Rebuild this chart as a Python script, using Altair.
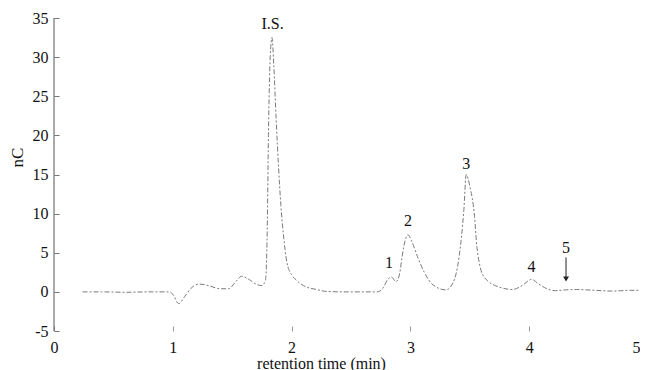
import altair as alt
import pandas as pd

# Chromatogram trace (retention time in min, signal in nC)
time_min = [0.24, 0.40, 0.60, 0.80, 0.97, 1.00, 1.05, 1.10, 1.15, 1.22, 1.30, 1.40, 1.47,
            1.53, 1.58, 1.64, 1.70, 1.75, 1.78, 1.795, 1.805, 1.82, 1.835, 1.85, 1.87,
            1.89, 1.91, 1.93, 1.96, 2.00, 2.04, 2.10, 2.21, 2.30, 2.45, 2.58, 2.72,
            2.77, 2.81, 2.84, 2.88, 2.91, 2.93, 2.96, 2.98, 3.01, 3.06, 3.12, 3.19,
            3.30, 3.36, 3.41, 3.45, 3.47, 3.50, 3.54, 3.56, 3.62, 3.75, 3.86, 3.94,
            4.02, 4.08, 4.15, 4.22, 4.30, 4.40, 4.55, 4.70, 4.85, 5.00]
signal_nc = [0.0, 0.0, -0.05, 0.0, 0.0, -0.3, -1.5, -0.6, 0.4, 1.0, 0.8, 0.4, 0.4,
             1.3, 2.0, 1.6, 1.0, 0.8, 1.5, 8.0, 20.0, 30.0, 32.5, 29.0, 22.0,
             16.0, 11.0, 7.5, 3.8, 2.2, 1.5, 0.8, 0.3, 0.05, 0.0, 0.0, 0.0,
             0.5, 1.6, 1.9, 1.3, 2.4, 4.5, 6.8, 7.3, 6.5, 4.5, 2.4, 0.9,
             0.25, 1.2, 4.5, 10.5, 15.0, 13.5, 9.6, 5.7, 1.9, 0.6, 0.3, 0.8,
             1.6, 1.0, 0.4, 0.15, 0.25, 0.3, 0.2, 0.1, 0.2, 0.2]

peak_labels = ["I.S.", "1", "2", "3", "4", "5"]
label_time = [1.84, 2.82, 2.98, 3.47, 4.02, 4.31]
label_value = [34.2, 3.7, 9.0, 16.3, 3.2, 5.6]

arrow_time = [4.31]
arrow_top = [4.4]
arrow_tip = [1.65]

x_ticks = [0, 1, 2, 3, 4, 5]
y_ticks = [-5, 0, 5, 10, 15, 20, 25, 30, 35]

W, H = 594, 313
SERIF = "Liberation Serif"

trace = pd.DataFrame({"t": time_min, "v": signal_nc})
labels = pd.DataFrame({"t": label_time, "v": label_value, "txt": peak_labels})
arrow = pd.DataFrame({"t": arrow_time, "top": arrow_top, "tip": arrow_tip})

x_scale = alt.Scale(domain=[0, 5], nice=False, zero=False)
y_scale = alt.Scale(domain=[-5, 35], nice=False, zero=False)

x_axis = alt.Axis(values=x_ticks, labelExpr="'' + datum.value", offset=-5, domain=False,
                  grid=False, tickSize=5, tickColor="#999999", labelPadding=8,
                  labelFlush=False, labelOverlap=False,
                  labelAlign={"condition": {"test": "datum.value == 5", "value": "right"},
                              "value": "center"},
                  labelOffset={"condition": {"test": "datum.value == 5", "value": -8},
                               "value": 0},
                  labelFont=SERIF, labelFontSize=16, labelColor="#111111",
                  title="retention time (min)", titleFont=SERIF, titleFontSize=16,
                  titleFontWeight="normal", titleColor="#111111",
                  titleX=267, titleY=42, titleAlign="center", titleBaseline="alphabetic")
y_axis = alt.Axis(values=y_ticks, labelExpr="'' + datum.value", offset=-5, domain=False,
                  grid=False, tickSize=5, tickColor="#777777", labelPadding=6,
                  labelOverlap=False,
                  labelFont=SERIF, labelFontSize=16, labelColor="#111111",
                  title="nC", titleFont=SERIF, titleFontSize=17,
                  titleFontWeight="normal", titleColor="#111111",
                  titleX=-37, titleY=139, titleAlign="center", titleBaseline="alphabetic")


def xq(field):
    return alt.X(f"{field}:Q", scale=x_scale, axis=x_axis, title="retention time (min)")


def yq(field):
    return alt.Y(f"{field}:Q", scale=y_scale, axis=y_axis, title="nC")


line = alt.Chart(trace).mark_line(
    color="#7a7a7a", strokeWidth=1, strokeDash=[5, 2, 2, 2], interpolate="monotone"
).encode(x=xq("t"), y=yq("v"))

axis_line = alt.Chart(pd.DataFrame({"a": [0]})).mark_rule(
    color="#555555", strokeWidth=1
).encode(x=alt.value(0), y=alt.value(0), y2=alt.value(H))

text = alt.Chart(labels).mark_text(
    font=SERIF, fontSize=16, color="#111111", baseline="middle", align="center"
).encode(x=xq("t"), y=yq("v"), text="txt:N")

arrow_shaft = alt.Chart(arrow).mark_rule(color="#222222", strokeWidth=1).encode(
    x=xq("t"), y=yq("top"), y2="tip:Q"
)
arrow_head = alt.Chart(arrow).mark_point(
    shape="triangle-down", filled=True, size=35, color="#222222", opacity=1
).encode(x=xq("t"), y=yq("tip"))

chart = alt.layer(line, axis_line, text, arrow_shaft, arrow_head).properties(
    width=W, height=H,
    autosize=alt.AutoSizeParams(type="none"),
    padding={"left": 46, "top": 10, "right": -8, "bottom": 39},
).configure_view(stroke=None)

chart.save("out.html", embed_options={"renderer": "svg", "actions": False})
